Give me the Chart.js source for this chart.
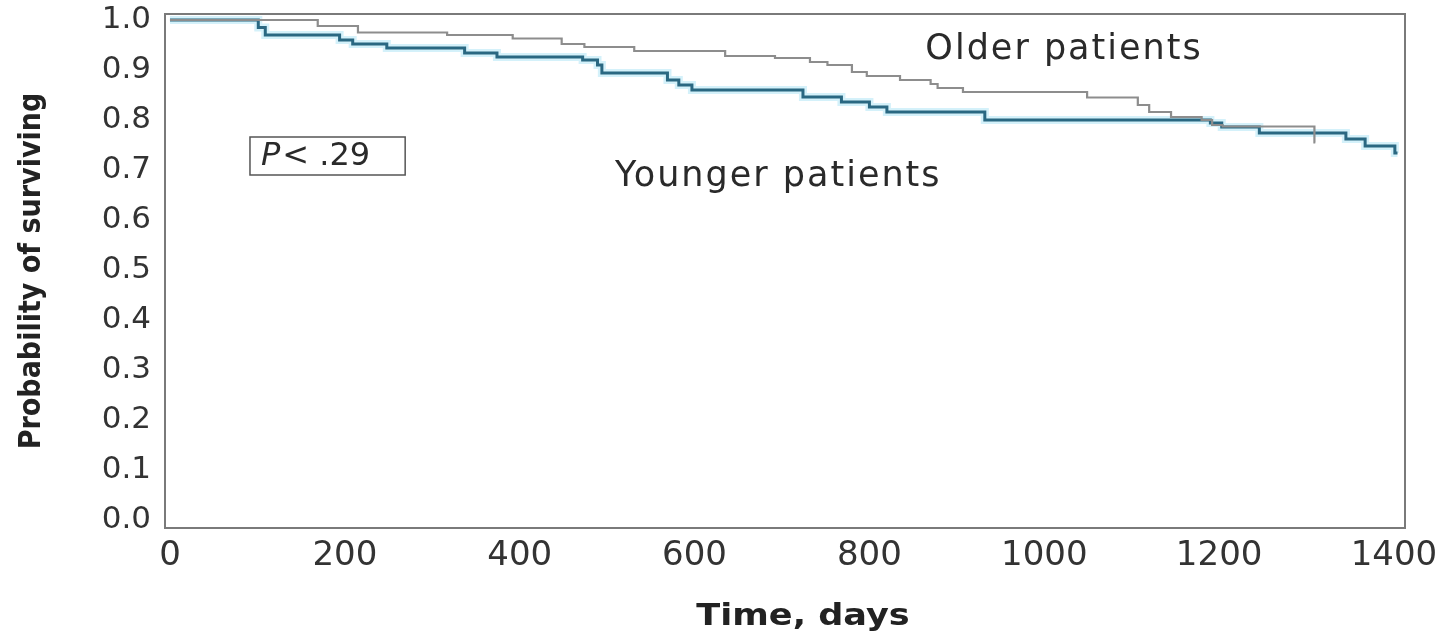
<!DOCTYPE html>
<html>
<head>
<meta charset="utf-8">
<script src="https://cdn.jsdelivr.net/npm/chart.js@4.4.0/dist/chart.umd.min.js"></script>
<style>
  html, body { margin: 0; padding: 0; background: #fff; }
  #wrap { width: 1437px; height: 635px; position: relative; }
</style>
</head>
<body>
<div id="wrap"><canvas id="km"></canvas></div>
<script>
// Kaplan-Meier steps (days, survival)
var olderDays   = [0, 169, 215, 317, 392, 448, 474, 531, 635, 692, 732, 752, 780, 797, 835, 870, 878, 907, 1049, 1107, 1120, 1145, 1180, 1192, 1204, 1309, 1310];
var olderSurv   = [1.0, 0.988, 0.975, 0.970, 0.963, 0.952, 0.946, 0.938, 0.928, 0.924, 0.916, 0.910, 0.896, 0.888, 0.880, 0.872, 0.864, 0.856, 0.845, 0.830, 0.816, 0.806, 0.800, 0.790, 0.787, 0.755, 0.755];
var youngerDays = [0, 101, 109, 194, 209, 248, 337, 374, 472, 489, 494, 569, 582, 597, 724, 768, 800, 820, 932, 1190, 1203, 1246, 1345, 1367, 1401, 1404];
var youngerSurv = [1.0, 0.985, 0.970, 0.960, 0.952, 0.944, 0.934, 0.926, 0.920, 0.910, 0.894, 0.880, 0.870, 0.860, 0.846, 0.836, 0.826, 0.816, 0.800, 0.794, 0.786, 0.774, 0.762, 0.748, 0.734, 0.734];
var yTicks = [0, 0.1, 0.2, 0.3, 0.4, 0.5, 0.6, 0.7, 0.8, 0.9, 1.0];
var xTicks = [0, 200, 400, 600, 800, 1000, 1200, 1400];

function pts(xs, ys) {
    let out = [];
    xs.forEach((d, i) => { out.push({x: d, y: ys[i]}); });
    return out;
}

var narrow = "'Liberation Sans Narrow', 'DejaVu Sans Condensed', 'Roboto', sans-serif";

// frame round the plot + text labels
var extras = {
    id: 'extras',
    afterDraw(chart) {
        let ctx = chart.ctx;
        let a = chart.chartArea;
        let xs = chart.scales.x, ys = chart.scales.y;
        ctx.save();
        ctx.strokeStyle = '#7a7a7a';
        ctx.lineWidth = 2;
        ctx.strokeRect(a.left, a.top, a.right - a.left, a.bottom - a.top);

        ctx.fillStyle = '#2a2a2a';
        ctx.textBaseline = 'middle';
        ctx.font = "35px 'DejaVu Sans', sans-serif";
        ctx.letterSpacing = '2px';
        ctx.fillText('Older patients', xs.getPixelForValue(864), ys.getPixelForValue(0.94));
        ctx.fillText('Younger patients', xs.getPixelForValue(509), ys.getPixelForValue(0.686));
        ctx.letterSpacing = '0px';

        // P value box
        let bx = xs.getPixelForValue(91.5), bx2 = xs.getPixelForValue(269);
        let by = ys.getPixelForValue(0.766), by2 = ys.getPixelForValue(0.69);
        ctx.strokeStyle = '#555';
        ctx.lineWidth = 1.5;
        ctx.strokeRect(bx, by, bx2 - bx, by2 - by);
        let ty = (by + by2) / 2 + 1;
        ctx.font = "italic 32px 'DejaVu Sans', sans-serif";
        ctx.fillText('P', bx + 11, ty);
        let w = ctx.measureText('P').width;
        ctx.font = "32px 'DejaVu Sans', sans-serif";
        ctx.fillText('< .29', bx + 13 + w, ty);

        // x axis title, a bit wide like the original
        ctx.fillStyle = '#222';
        ctx.textAlign = 'center';
        ctx.textBaseline = 'alphabetic';
        ctx.font = "bold 30px 'DejaVu Sans', sans-serif";
        ctx.translate(803, 625);
        ctx.scale(1.17, 1);
        ctx.fillText('Time, days', 0, 0);
        ctx.restore();
    }
};

new Chart(document.getElementById('km'), {
    type: 'line',
    data: {
        datasets: [{
            label: 'Older patients',
            data: pts(olderDays, olderSurv),
            stepped: true,
            order: 0,
            borderColor: '#8d8d8d',
            borderWidth: 2.2,
            pointRadius: 0,
            fill: false
        }, {
            label: 'halo',
            data: pts(youngerDays, youngerSurv),
            stepped: true,
            order: 2,
            borderColor: 'rgba(170, 228, 245, 0.5)',
            borderWidth: 8,
            pointRadius: 0,
            fill: false
        }, {
            label: 'Younger patients',
            data: pts(youngerDays, youngerSurv),
            stepped: true,
            order: 1,
            borderColor: '#2a6882',
            borderWidth: 3,
            pointRadius: 0,
            fill: false
        }]
    },
    options: {
        responsive: true,
        maintainAspectRatio: false,
        animation: false,
        plugins: {
            legend: { display: false },
            tooltip: { enabled: false }
        },
        layout: {
            padding: { left: 14, right: 32, top: 14, bottom: 0 }
        },
        scales: {
            x: {
                type: 'linear',
                min: -5.7,
                max: 1412.6,
                grid: { display: false, drawTicks: false },
                border: { display: false },
                afterBuildTicks: (s) => { s.ticks = xTicks.map(v => ({value: v})); },
                afterFit: (s) => { s.height = 107; s.paddingLeft = 0; s.paddingRight = 0; },
                ticks: {
                    color: '#333',
                    padding: 8,
                    maxRotation: 0,
                    autoSkip: false,
                    callback: (v) => String(v),
                    font: { family: "'DejaVu Sans', sans-serif", size: 34 }
                },
                title: { display: false }
            },
            y: {
                min: -0.016,
                max: 1.012,
                grid: { display: false, drawTicks: false },
                border: { display: false },
                afterBuildTicks: (s) => { s.ticks = yTicks.map(v => ({value: v})); },
                afterFit: (s) => { s.width = 151; s.paddingTop = 0; s.paddingBottom = 0; },
                ticks: {
                    color: '#333',
                    padding: 14,
                    callback: (v) => v.toFixed(1),
                    font: { family: "'DejaVu Sans', sans-serif", size: 31 }
                },
                title: {
                    display: true,
                    text: 'Probability of surviving',
                    color: '#222',
                    padding: { top: 0, bottom: 4 },
                    font: { family: narrow, size: 30, weight: 'bold' }
                }
            }
        }
    },
    plugins: [extras]
});
</script>
</body>
</html>
